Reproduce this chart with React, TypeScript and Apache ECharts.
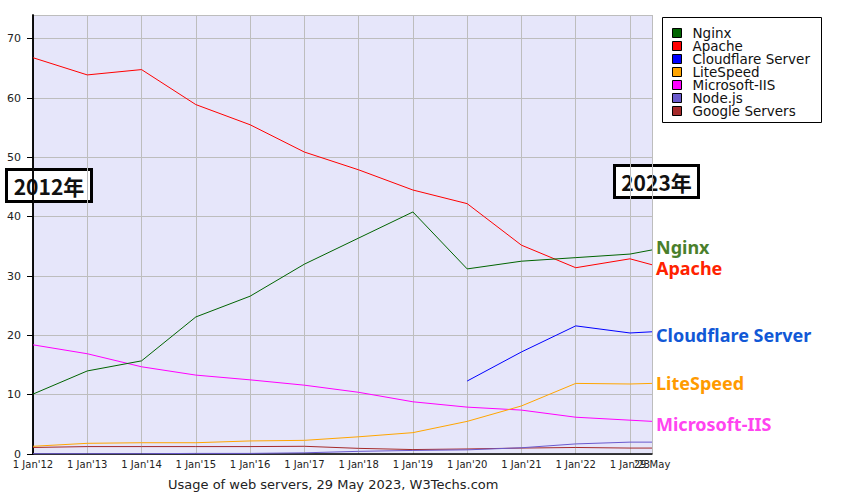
import React, { useEffect, useRef } from "react";
import * as echarts from "echarts";

const dates = [
  "2012-01-01", "2013-01-01", "2014-01-01", "2015-01-01", "2016-01-01", "2017-01-01",
  "2018-01-01", "2019-01-01", "2020-01-01", "2021-01-01", "2022-01-01", "2023-01-01", "2023-05-29",
];
const nginx = [10.1, 14.0, 15.7, 23.1, 26.6, 32.0, 36.4, 40.8, 31.2, 32.5, 33.1, 33.7, 34.4];
const apache = [66.8, 63.9, 64.8, 58.9, 55.5, 50.9, 47.9, 44.5, 42.2, 35.2, 31.4, 32.9, 31.9];
const cloudflare = [null, null, null, null, null, null, null, null, 12.3, 17.2, 21.6, 20.4, 20.6];
const litespeed = [1.3, 1.8, 1.9, 1.9, 2.2, 2.3, 2.9, 3.6, 5.5, 8.1, 11.9, 11.8, 11.9];
const iis = [18.4, 16.9, 14.7, 13.3, 12.5, 11.6, 10.4, 8.8, 7.9, 7.4, 6.2, 5.7, 5.5];
const nodejs = [0.05, 0.05, 0.05, 0.1, 0.1, 0.2, 0.45, 0.6, 0.7, 1.05, 1.7, 2.0, 2.0];
const google = [1.1, 1.25, 1.25, 1.25, 1.25, 1.3, 0.95, 0.75, 0.85, 1.0, 1.1, 1.0, 1.0];

const seriesNames = ["Nginx", "Apache", "Cloudflare Server", "LiteSpeed", "Microsoft-IIS", "Node.js", "Google Servers"];
const seriesColors = ["#006400", "#ff0000", "#0000ff", "#ffa500", "#ff00ff", "#6a5acd", "#a52a2a"];
const seriesValues = [nginx, apache, cloudflare, litespeed, iis, nodejs, google];
const endLabelColors: (string | null)[] = ["#4a7f2c", "#ff2200", "#1158d6", "#ff9a00", "#ff44f0", null, null];
const endLabelOffsets = [[0, -3], [0, 3], [0, 3], [0, 0], [0, 3], [0, 0], [0, 0]];

const titleText = "Usage of web servers, 29 May 2023, W3Techs.com";
const startYear = 2012;

function toYearFrac(s: string): number {
  const d = Date.parse(s + "T00:00:00Z");
  const y = new Date(d).getUTCFullYear();
  const a = Date.UTC(y, 0, 1);
  const b = Date.UTC(y + 1, 0, 1);
  return y - startYear + (d - a) / (b - a);
}

const xs = dates.map(toYearFrac);
const xMax = xs[xs.length - 1];

function yearLabel(v: number): string {
  const yy = String((startYear + Math.round(v)) % 100).padStart(2, "0");
  return "1 Jan'" + yy;
}
function lastDateLabel(): string {
  const d = new Date(Date.parse(dates[dates.length - 1] + "T00:00:00Z"));
  const months = ["Jan", "Feb", "Mar", "Apr", "May", "Jun", "Jul", "Aug", "Sep", "Oct", "Nov", "Dec"];
  return d.getUTCDate() + " " + months[d.getUTCMonth()];
}

export default function App() {
  const ref = useRef<HTMLDivElement>(null);
  useEffect(() => {
    if (!ref.current) return;
    const chart = echarts.init(ref.current, null, { renderer: "svg" });
    const axisFont = { fontFamily: "DejaVu Sans", fontSize: 10, color: "#222" };
    chart.setOption({
      animation: false,
      backgroundColor: "#ffffff",
      grid: {
        left: 33, top: 15, right: 191, bottom: 46,
        show: true, backgroundColor: "#e6e6fa", borderWidth: 0,
      },
      title: {
        text: titleText,
        left: 163,
        top: 473,
        textStyle: { fontFamily: "DejaVu Sans", fontSize: 13, fontWeight: "normal", color: "#222" },
      },
      legend: {
        orient: "vertical",
        left: 672,
        top: 26,
        padding: 0,
        itemWidth: 9,
        itemHeight: 9,
        itemGap: -1,
        icon: "rect",
        selectedMode: false,
        data: seriesNames,
        itemStyle: { borderColor: "#000", borderWidth: 1 },
        textStyle: { fontFamily: "DejaVu Sans", fontSize: 13.5, color: "#111", padding: [0, 0, 0, 6], lineHeight: 13 },
      },
      xAxis: [
        {
          type: "value",
          min: 0,
          max: xMax,
          interval: 1,
          axisLine: { show: true, onZero: false, lineStyle: { color: "#000", width: 1.5 } },
          axisTick: { show: false },
          splitLine: { show: true, lineStyle: { color: "#bdbdbd", width: 1 } },
          axisLabel: { ...axisFont, margin: 5, showMaxLabel: false, showMinLabel: true, formatter: yearLabel },
        },
        {
          type: "value",
          position: "bottom",
          min: 0,
          max: xMax,
          interval: xMax,
          axisLine: { show: false },
          axisTick: { show: false },
          splitLine: { show: false },
          axisLabel: {
            ...axisFont,
            margin: 5,
            showMaxLabel: true,
            showMinLabel: false,
            formatter: (v: number) => (v > 0 ? lastDateLabel() : ""),
          },
        },
      ],
      yAxis: [
        {
          type: "value",
          min: 0,
          max: 74,
          interval: 10,
          axisLine: { show: true, lineStyle: { color: "#000", width: 1.5 } },
          axisTick: { show: true, length: 6, lineStyle: { color: "#000" } },
          splitLine: { show: true, lineStyle: { color: "#bdbdbd", width: 1 } },
          axisLabel: { ...axisFont, fontSize: 11, margin: 12, showMaxLabel: false },
        },
        {
          type: "value",
          position: "right",
          min: 0,
          max: 74,
          interval: 10,
          axisLine: { show: true, lineStyle: { color: "#000", width: 1.5 } },
          axisTick: { show: false },
          splitLine: { show: false },
          axisLabel: { show: false },
        },
      ],
      series: seriesNames.map((name, i) => ({
        name,
        type: "line",
        xAxisIndex: 0,
        yAxisIndex: 0,
        symbol: "none",
        z: 10 - i,
        color: seriesColors[i],
        lineStyle: { color: seriesColors[i], width: 1 },
        itemStyle: { color: seriesColors[i] },
        data: seriesValues[i]
          .map((v, j) => (v == null ? null : [xs[j], v]))
          .filter((p) => p !== null),
        endLabel: endLabelColors[i]
          ? {
              show: true,
              formatter: name,
              distance: 4,
              offset: endLabelOffsets[i],
              color: endLabelColors[i],
              fontFamily: "Noto Sans",
              fontWeight: "bold",
              fontSize: 18,
            }
          : { show: false },
      })),
      graphic: [
        {
          type: "rect",
          shape: { x: 662.5, y: 17.5, width: 159, height: 105 },
          style: { fill: "#fff", stroke: "#000", lineWidth: 1 },
          z: 0,
        },
        {
          type: "group",
          z: 100,
          children: [
            {
              type: "rect",
              shape: { x: 6.5, y: 169.5, width: 85, height: 32 },
              style: { fill: "#fff", stroke: "#000", lineWidth: 3 },
            },
            {
              type: "text",
              x: 49,
              y: 186,
              style: {
                text: "2012年",
                fill: "#111",
                font: "bold 21px 'Noto Sans CJK JP', 'Noto Sans'",
                align: "center",
                verticalAlign: "middle",
              },
            },
          ],
        },
        {
          type: "group",
          z: 100,
          children: [
            {
              type: "rect",
              shape: { x: 614.5, y: 165.5, width: 84, height: 32 },
              style: { fill: "#fff", stroke: "#000", lineWidth: 3 },
            },
            {
              type: "text",
              x: 656.5,
              y: 182,
              style: {
                text: "2023年",
                fill: "#111",
                font: "bold 21px 'Noto Sans CJK JP', 'Noto Sans'",
                align: "center",
                verticalAlign: "middle",
              },
            },
          ],
        },
      ],
    });
    return () => chart.dispose();
  }, []);
  return (
    <div
      ref={ref}
      style={{ position: "fixed", left: 0, top: 0, width: 843, height: 500 }}
    />
  );
}
